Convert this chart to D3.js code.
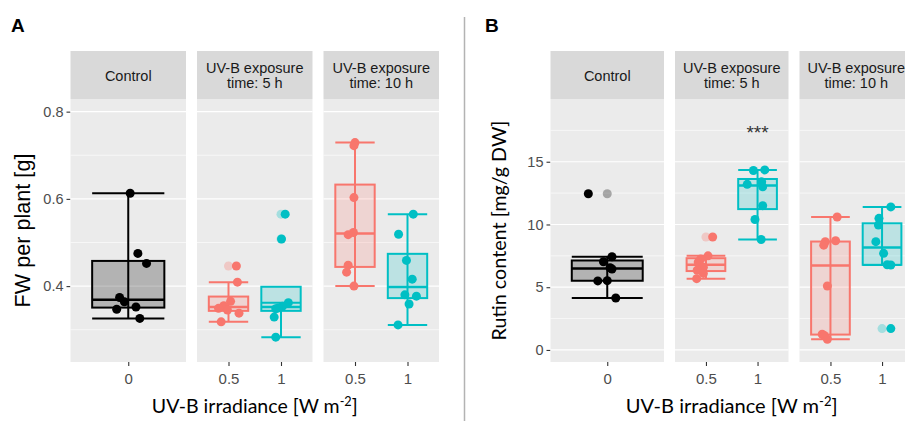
<!DOCTYPE html>
<html><head><meta charset="utf-8">
<script src="https://cdn.jsdelivr.net/npm/d3@7"></script>
<style>body{margin:0;background:#fff}svg{display:block}</style>
</head><body>
<svg id="c" width="905" height="421"></svg>
<script>
// ---------------- data ----------------
const stripLines = [["Control"], ["UV-B exposure", "time: 5 h"], ["UV-B exposure", "time: 10 h"]];
const facetCategories = [["0"], ["0.5", "1"], ["0.5", "1"]];
const facetGroups = [["ctrl"], ["low", "high"], ["low", "high"]];

const fwTicks = [0.4, 0.6, 0.8];
const fwMinor = [0.3, 0.5, 0.7];
const rutinTicks = [0, 5, 10, 15];
const rutinMinor = [2.5, 7.5, 12.5, 17.5];

// Panel A: FW per plant [g]
const fwControl  = [0.613, 0.475, 0.452, 0.374, 0.364, 0.352, 0.347, 0.326];
const fw5hLow    = [0.446, 0.409, 0.365, 0.355, 0.349, 0.345, 0.338, 0.318];
const fw5hHigh   = [0.565, 0.508, 0.362, 0.354, 0.350, 0.348, 0.329, 0.283];
const fw10hLow   = [0.729, 0.722, 0.603, 0.523, 0.518, 0.448, 0.432, 0.400];
const fw10hHigh  = [0.565, 0.519, 0.459, 0.416, 0.380, 0.377, 0.359, 0.311];
// jitter offsets of the points (fraction of category step)
const fwControlJit = [0.02, 0.10, 0.19, -0.09, -0.04, 0.08, -0.12, 0.12];
const fw5hLowJit   = [0.15, 0.17, 0.04, -0.09, -0.19, -0.02, 0.20, -0.14];
const fw5hHighJit  = [0.08, 0.01, 0.14, 0.03, -0.05, -0.10, -0.13, -0.10];
const fw10hLowJit  = [0.00, -0.02, -0.02, -0.03, -0.13, -0.13, -0.16, -0.02];
const fw10hHighJit = [0.11, -0.17, -0.02, 0.09, -0.05, 0.17, 0.03, -0.18];

// Panel B: Rutin content [mg/g DW]
const rutinControl = [12.45, 7.43, 7.03, 6.55, 6.45, 5.52, 5.50, 4.14];
const rutin5hLow   = [9.0, 7.5, 7.25, 7.0, 6.6, 6.35, 6.1, 5.68];
const rutin5hHigh  = [14.35, 14.3, 13.4, 13.2, 13.0, 11.5, 10.4, 8.8];
const rutin10hLow  = [10.6, 8.7, 8.62, 8.35, 5.1, 1.25, 1.15, 0.85];
const rutin10hHigh = [11.4, 10.49, 9.96, 8.63, 7.7, 6.79, 6.77, 1.7];
const rutinControlJit = [-0.20, 0.05, -0.04, 0.03, 0.05, 0.00, -0.10, 0.09];
const rutin5hLowJit   = [0.13, 0.04, -0.10, -0.15, -0.05, -0.17, -0.05, -0.18];
const rutin5hHighJit  = [0.14, -0.08, 0.08, -0.20, 0.10, 0.10, -0.05, 0.07];
const rutin10hLowJit  = [0.13, 0.10, -0.10, -0.13, -0.06, -0.16, -0.12, -0.06];
const rutin10hHighJit = [0.17, -0.06, -0.07, -0.12, 0.03, 0.10, 0.17, 0.17];

// significance annotation (panel B, facet 1, category "1")
const sigLabels = ["***"];
const sigValues = [16.8];

// ---------------- style ----------------
const colors = {ctrl: "#000000", low: "#F8766D", high: "#00BFC4"};
const fillAlpha = {ctrl: 0.24, low: 0.2, high: 0.2};
const svg = d3.select("#c");
const yTop = 99, yBottom = 362, stripTop = 51;

function stats(vals) {
  const s = vals.slice().sort(d3.ascending);
  const q1 = d3.quantile(s, 0.25), med = d3.quantile(s, 0.5), q3 = d3.quantile(s, 0.75);
  const iqr = q3 - q1;
  const inside = s.filter(v => v >= q1 - 1.5 * iqr && v <= q3 + 1.5 * iqr);
  return {q1, med, q3, lo: d3.min(inside), hi: d3.max(inside),
          out: s.filter(v => v < q1 - 1.5 * iqr || v > q3 + 1.5 * iqr)};
}

function fit(sel, target, size) {
  const b = sel.node().getBBox();
  const len = Math.max(b.width, b.height);
  const ns = size * target / len;
  sel.style("font-size", ns + "px");
  sel.selectAll("tspan").each(function () {
    const t = d3.select(this);
    if (t.text() === "-2") { t.style("font-size", (ns * 0.65) + "px").attr("dy", -ns * 0.35); }
    else if (t.text() === "]") { t.attr("dy", ns * 0.35); }
  });
}

function drawPanels(cfg) {
  const y = d3.scaleLinear().domain(cfg.yDomain).range([yBottom, yTop]);
  const gap = 11;
  const pw = (cfg.right - cfg.left - 2 * gap) / 3;
  const g = svg.append("g");

  const yAxis = d3.axisLeft(y).tickValues(cfg.ticks).tickSize(4).tickPadding(3).tickFormat(cfg.fmt);
  const ya = g.append("g").attr("transform", `translate(${cfg.left},0)`).call(yAxis);
  ya.select(".domain").remove();
  ya.selectAll("line").attr("stroke", "#333").attr("stroke-width", 1.1);
  ya.selectAll("text").attr("fill", "#4d4d4d").style("font-family", "Liberation Sans, Arial, sans-serif")
    .style("font-size", "14.5px");

  for (let f = 0; f < 3; f++) {
    const pl = cfg.left + f * (pw + gap);
    const x = d3.scalePoint().domain(facetCategories[f]).range([pl, pl + pw]).padding(0.6);
    const bw = x.step() * 0.75;
    g.append("rect").attr("x", pl).attr("y", stripTop).attr("width", pw).attr("height", yTop - stripTop)
      .attr("fill", "#d9d9d9");
    const lines = stripLines[f];
    lines.forEach((t, i) => {
      const cy = lines.length === 1 ? 75.5 : (i === 0 ? 67.7 : 83.3);
      g.append("text").attr("x", pl + pw / 2).attr("y", cy).attr("dy", "0.35em")
        .attr("text-anchor", "middle").attr("fill", "#1a1a1a")
        .style("font-family", "Liberation Sans, Arial, sans-serif").style("font-size", "14.5px").text(t);
    });
    g.append("rect").attr("x", pl).attr("y", yTop).attr("width", pw).attr("height", yBottom - yTop)
      .attr("fill", "#ebebeb");
    cfg.minor.forEach(v => g.append("line").attr("x1", pl).attr("x2", pl + pw)
      .attr("y1", y(v)).attr("y2", y(v)).attr("stroke", "#fff").attr("stroke-width", 0.6));
    cfg.ticks.forEach(v => g.append("line").attr("x1", pl).attr("x2", pl + pw)
      .attr("y1", y(v)).attr("y2", y(v)).attr("stroke", "#fff").attr("stroke-width", 1.2));
    const xa = g.append("g").attr("transform", `translate(0,${yBottom})`)
      .call(d3.axisBottom(x).tickSize(4).tickPadding(7));
    xa.select(".domain").remove();
    xa.selectAll("line").attr("stroke", "#333").attr("stroke-width", 1.1);
    xa.selectAll("text").attr("fill", "#4d4d4d").style("font-family", "Liberation Sans Narrow, Liberation Sans, Arial, sans-serif")
      .style("font-size", "15px");

    facetCategories[f].forEach((cat, ci) => {
      const grp = facetGroups[f][ci];
      const vals = cfg.data[f][ci], jit = cfg.jit[f][ci];
      const col = colors[grp];
      const st = stats(vals);
      const cx = x(cat);
      const bg = g.append("g");
      bg.append("line").attr("x1", cx).attr("x2", cx).attr("y1", y(st.lo)).attr("y2", y(st.hi))
        .attr("stroke", col).attr("stroke-width", 2);
      [st.lo, st.hi].forEach(v => bg.append("line").attr("x1", cx - bw / 2).attr("x2", cx + bw / 2)
        .attr("y1", y(v)).attr("y2", y(v)).attr("stroke", col).attr("stroke-width", 2));
      bg.append("rect").attr("x", cx - bw / 2).attr("y", y(st.q3)).attr("width", bw)
        .attr("height", y(st.q1) - y(st.q3)).attr("fill", col).attr("fill-opacity", fillAlpha[grp])
        .attr("stroke", col).attr("stroke-width", 2);
      bg.append("line").attr("x1", cx - bw / 2).attr("x2", cx + bw / 2)
        .attr("y1", y(st.med)).attr("y2", y(st.med)).attr("stroke", col).attr("stroke-width", 2.5);
      st.out.forEach(v => bg.append("circle").attr("cx", cx).attr("cy", y(v)).attr("r", 4.5)
        .attr("fill", col).attr("fill-opacity", 0.3));
      vals.forEach((v, i) => bg.append("circle").attr("cx", cx + jit[i] * x.step()).attr("cy", y(v))
        .attr("r", 4.5).attr("fill", col));
      if (cfg.sig && f === 1 && ci === 1) {
        sigLabels.forEach((t, i) => g.append("text").attr("x", cx).attr("y", y(sigValues[i]))
          .attr("text-anchor", "middle").attr("fill", "#333")
          .style("font-family", "Liberation Sans, Arial, sans-serif").style("font-size", "19px").text(t));
      }
    });
  }

  const xt = g.append("text").attr("x", (cfg.left + cfg.right) / 2).attr("y", 413)
    .attr("text-anchor", "middle").attr("fill", "#000")
    .style("font-family", "Lato, Open Sans, sans-serif").style("font-size", "20px");
  xt.append("tspan").text("UV-B irradiance [W m");
  xt.append("tspan").attr("dy", -7).style("font-size", "13px").text("-2");
  xt.append("tspan").attr("dy", 7).text("]");
  fit(xt, cfg.xTitleW, 20);

  const yt = g.append("text").attr("transform", `translate(${cfg.yTitleX},${(yTop + yBottom) / 2}) rotate(-90)`)
    .attr("text-anchor", "middle").attr("fill", "#000")
    .style("font-family", cfg.yTitleFont).style("font-size", "20px").text(cfg.yTitle);
  fit(yt, cfg.yTitleW, 20);

  g.append("text").attr("x", cfg.labelX).attr("y", 32).attr("fill", "#000")
    .style("font-family", "Liberation Sans, Arial, sans-serif").style("font-weight", "bold")
    .style("font-size", "19px").text(cfg.label);
}

drawPanels({
  left: 70.5, right: 439, yDomain: [0.226, 0.829], ticks: fwTicks, minor: fwMinor,
  fmt: d3.format(".1f"),
  data: [[fwControl], [fw5hLow, fw5hHigh], [fw10hLow, fw10hHigh]],
  jit: [[fwControlJit], [fw5hLowJit, fw5hHighJit], [fw10hLowJit, fw10hHighJit]],
  xTitleW: 206, yTitle: "FW per plant [g]", yTitleX: 30, yTitleW: 154,
  yTitleFont: "Liberation Sans, Arial, sans-serif", label: "A", labelX: 11, sig: false
});
drawPanels({
  left: 550.5, right: 913, yDomain: [-0.96, 20.0], ticks: rutinTicks, minor: rutinMinor,
  fmt: d3.format("d"),
  data: [[rutinControl], [rutin5hLow, rutin5hHigh], [rutin10hLow, rutin10hHigh]],
  jit: [[rutinControlJit], [rutin5hLowJit, rutin5hHighJit], [rutin10hLowJit, rutin10hHighJit]],
  xTitleW: 212, yTitle: "Rutin content [mg/g DW]", yTitleX: 506, yTitleW: 220,
  yTitleFont: "Lato, Open Sans, sans-serif", label: "B", labelX: 485, sig: true
});

svg.append("line").attr("x1", 464.5).attr("x2", 464.5).attr("y1", 17).attr("y2", 421)
  .attr("stroke", "#b3b3b3").attr("stroke-width", 1.5);
</script>
</body></html>
